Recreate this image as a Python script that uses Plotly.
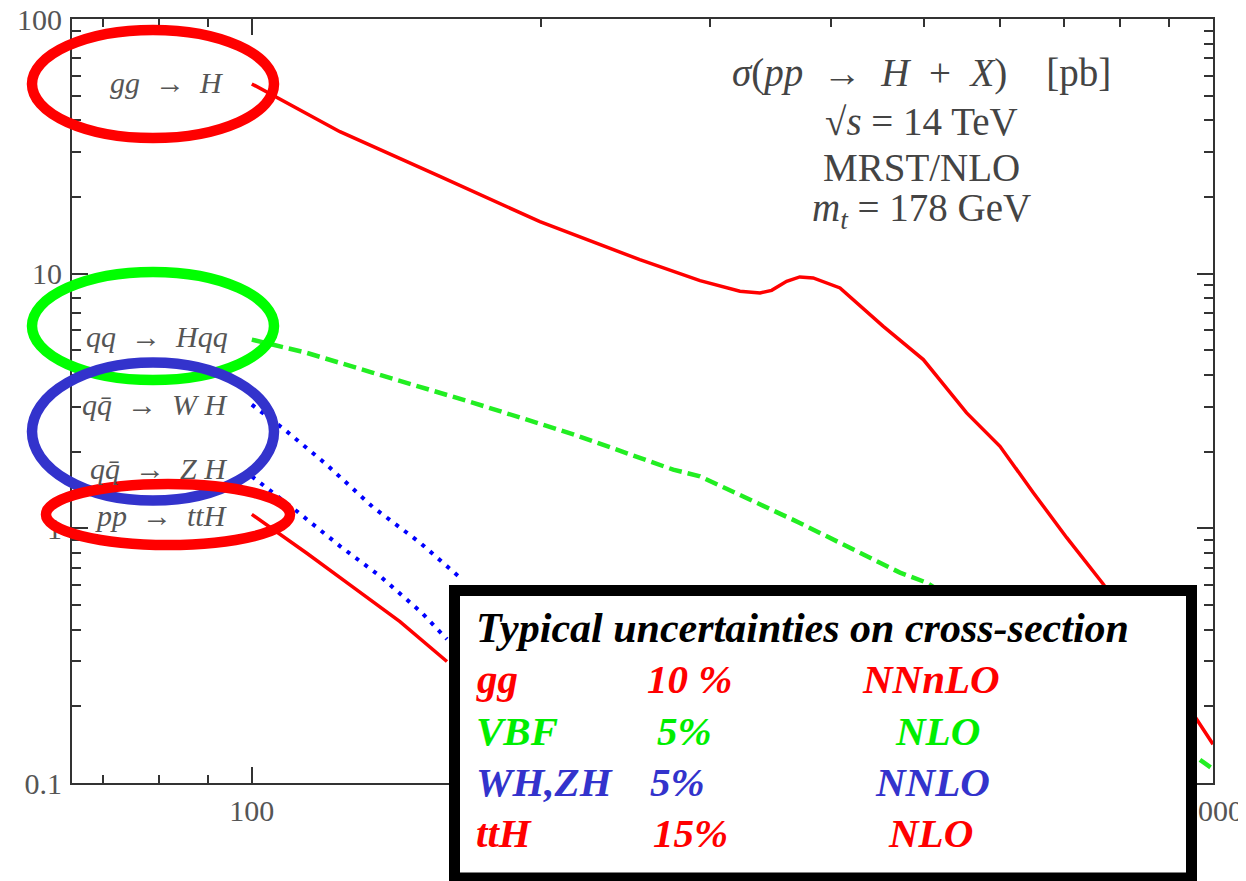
import math
import plotly.graph_objects as go

# ---------------- data ----------------
mass_gg = [100, 123.5, 156.9, 199.4, 253.3, 292.6, 322, 337.9, 347.4, 360.1, 371.6, 383.7,
           409.2, 453.9, 499.6, 554.2, 600.3, 650.2, 704.4, 769, 961.6, 1000]
xsec_gg = [55.6, 36.1, 24.1, 16.0, 11.35, 9.39, 8.53, 8.40, 8.60, 9.33, 9.71, 9.62,
           8.79, 6.21, 4.60, 2.84, 2.10, 1.38, 0.919, 0.603, 0.178, 0.142]

mass_vbf = [100, 114, 133.7, 170, 216, 274.4, 292.6, 371.6, 472.4, 503.6, 961.6, 1000]
xsec_vbf = [5.51, 4.89, 4.08, 3.11, 2.34, 1.70, 1.60, 1.05, 0.67, 0.612, 0.126, 0.1135]

mass_wh = [100, 108.2, 119.6, 133.7, 149.6, 164.6]
xsec_wh = [3.06, 2.44, 1.78, 1.21, 0.879, 0.641]

mass_zh = [100, 111.3, 123.5, 135.9, 150.2, 159.6]
xsec_zh = [1.60, 1.17, 0.852, 0.65, 0.467, 0.367]

mass_tth = [100, 114, 126.5, 142.6, 159.6]
xsec_tth = [1.135, 0.80, 0.60, 0.43, 0.30]

x_major = [100, 1000]
x_major_text = ["100", "1000"]
x_minor = [70, 80, 90, 200, 300, 400, 500, 600, 700, 800, 900]
y_major = [0.1, 1, 10, 100]
y_major_text = ["0.1", "1", "10", "100"]
y_minor = [0.2, 0.3, 0.4, 0.5, 0.6, 0.7, 0.8, 0.9,
           2, 3, 4, 5, 6, 7, 8, 9, 20, 30, 40, 50, 60, 70, 80, 90]

SP = "\u2002"
EM = "\u2003"
process_labels = ["<i>gg</i>" + SP + "→" + SP + "<i>H</i>",
                  "<i>qq</i>" + SP + "→" + SP + "<i>Hqq</i>",
                  "<i>q</i><i>q̄</i>" + SP + "→" + SP + "<i>W H</i>",
                  "<i>q</i><i>q̄</i>" + SP + "→" + SP + "<i>Z H</i>",
                  "<i>pp</i>" + SP + "→" + SP + "<i>ttH</i>"]

info_lines = ["<i>σ</i>(<i>pp</i>" + SP + "→" + SP + "<i>H</i>" + SP + "+" + SP + "<i>X</i>)" + EM + "[pb]",
              "√<i>s</i> = 14 TeV", "MRST/NLO", "<i>m<sub>t</sub></i> = 178 GeV"]

box_title = "Typical uncertainties on cross-section"
box_rows = [["gg", "10 %", "NNnLO"],
            ["VBF", "5%", "NLO"],
            ["WH,ZH", "5%", "NNLO"],
            ["ttH", "15%", "NLO"]]

# ---------------- layout geometry (page pixels; the page adds an 8px body margin) ----------------
OFF = 8
W, H = 1246 - OFF, 881 - OFF
L, R, T, B = 72, 1213, 19, 783   # plot frame in page pixels

def px(X):
    return (X - L) / (R - L)

def py(Y):
    return 1 - (Y - T) / (B - T)

RED = "#ff0000"
GREEN = "#22ee22"
BLUE = "#0000ff"
GRAY = "#555555"
SERIF = "Liberation Serif"

fig = go.Figure()
fig.add_trace(go.Scatter(x=mass_gg, y=xsec_gg, mode="lines",
                         line=dict(color=RED, width=3.5), hoverinfo="skip"))
fig.add_trace(go.Scatter(x=mass_vbf, y=xsec_vbf, mode="lines",
                         line=dict(color=GREEN, width=4.5, dash="13px,6px"), hoverinfo="skip"))
fig.add_trace(go.Scatter(x=mass_wh, y=xsec_wh, mode="lines",
                         line=dict(color=BLUE, width=4, dash="4px,7px"), hoverinfo="skip"))
fig.add_trace(go.Scatter(x=mass_zh, y=xsec_zh, mode="lines",
                         line=dict(color=BLUE, width=4, dash="4px,7px"), hoverinfo="skip"))
fig.add_trace(go.Scatter(x=mass_tth, y=xsec_tth, mode="lines",
                         line=dict(color=RED, width=3.5), hoverinfo="skip"))

axis_common = dict(showline=True, linecolor="#333", linewidth=2, mirror="ticks",
                   ticks="inside", ticklen=16, tickwidth=2, tickcolor="#333",
                   showgrid=False, zeroline=False, automargin=False,
                   ticklabeloverflow="allow",
                   tickfont=dict(family=SERIF, size=30, color=GRAY))

fig.update_xaxes(type="log", range=[math.log10(65), 3],
                 tickmode="array", tickvals=x_major, ticktext=x_major_text,
                 minor=dict(tickmode="array", tickvals=x_minor, ticks="inside", ticklen=8,
                            tickwidth=2, tickcolor="#333", showgrid=False),
                 ticklabelstandoff=0, **axis_common)
fig.update_yaxes(type="log", range=[-1, 2],
                 tickmode="array", tickvals=y_major, ticktext=y_major_text,
                 minor=dict(tickmode="array", tickvals=y_minor, ticks="inside", ticklen=9,
                            tickwidth=2, tickcolor="#333", showgrid=False),
                 ticklabelstandoff=2, **axis_common)

shapes = []
# highlight ellipses (pixel centre, radii)
ellipses = [(153, 84, 121, 54, RED), (153, 326, 121, 54, "#00ff00"),
            (153, 431.6, 121, 69, "#3333cc"), (168, 514.5, 122, 30.5, RED)]
for cx, cy, rx, ry, col in ellipses:
    shapes.append(dict(type="circle", xref="paper", yref="paper", layer="above",
                       x0=px(cx - rx), x1=px(cx + rx), y0=py(cy + ry), y1=py(cy - ry),
                       line=dict(color=col, width=10.5)))
# uncertainty box
shapes.append(dict(type="rect", xref="paper", yref="paper", layer="above",
                   x0=px(454.5), x1=px(1191.5), y0=py(878), y1=py(590.5),
                   fillcolor="white", line=dict(color="black", width=11)))

annotations = []
label_pos = [(226, 82), (230, 336), (230, 404), (230, 468), (230, 515)]
for txt, (X, Y) in zip(process_labels, label_pos):
    annotations.append(dict(text=txt, xref="paper", yref="paper", x=px(X), y=py(Y),
                            xanchor="right", yanchor="middle", showarrow=False,
                            font=dict(family=SERIF, size=30, color=GRAY)))
info_y = [73, 122, 167, 210]
for txt, Y in zip(info_lines, info_y):
    annotations.append(dict(text=txt, xref="paper", yref="paper", x=px(921), y=py(Y),
                            xanchor="center", yanchor="middle", showarrow=False,
                            font=dict(family=SERIF, size=39, color="#444444")))

annotations.append(dict(text="<b><i>" + box_title + "</i></b>", xref="paper", yref="paper",
                        x=px(474), y=py(628), xanchor="left", yanchor="middle", showarrow=False,
                        font=dict(family=SERIF, size=42, color="black")))
row_colors = [RED, "#00ee00", "#3333cc", RED]
row_y = [679, 731, 782, 833]
col_x = [[474, 645, 860], [474, 655, 893], [474, 648, 873], [474, 651, 886]]
for row, col, Y, xs in zip(box_rows, row_colors, row_y, col_x):
    for txt, X in zip(row, xs):
        annotations.append(dict(text="<b><i>" + txt + "</i></b>", xref="paper", yref="paper",
                                x=px(X), y=py(Y), xanchor="left", yanchor="middle",
                                showarrow=False, font=dict(family=SERIF, size=41, color=col)))

fig.update_layout(width=W, height=H,
                  margin=dict(l=L - OFF, r=W - (R - OFF), t=T - OFF, b=H - (B - OFF)),
                  paper_bgcolor="white", plot_bgcolor="white", showlegend=False,
                  shapes=shapes, annotations=annotations)

fig.write_html("out.html")
